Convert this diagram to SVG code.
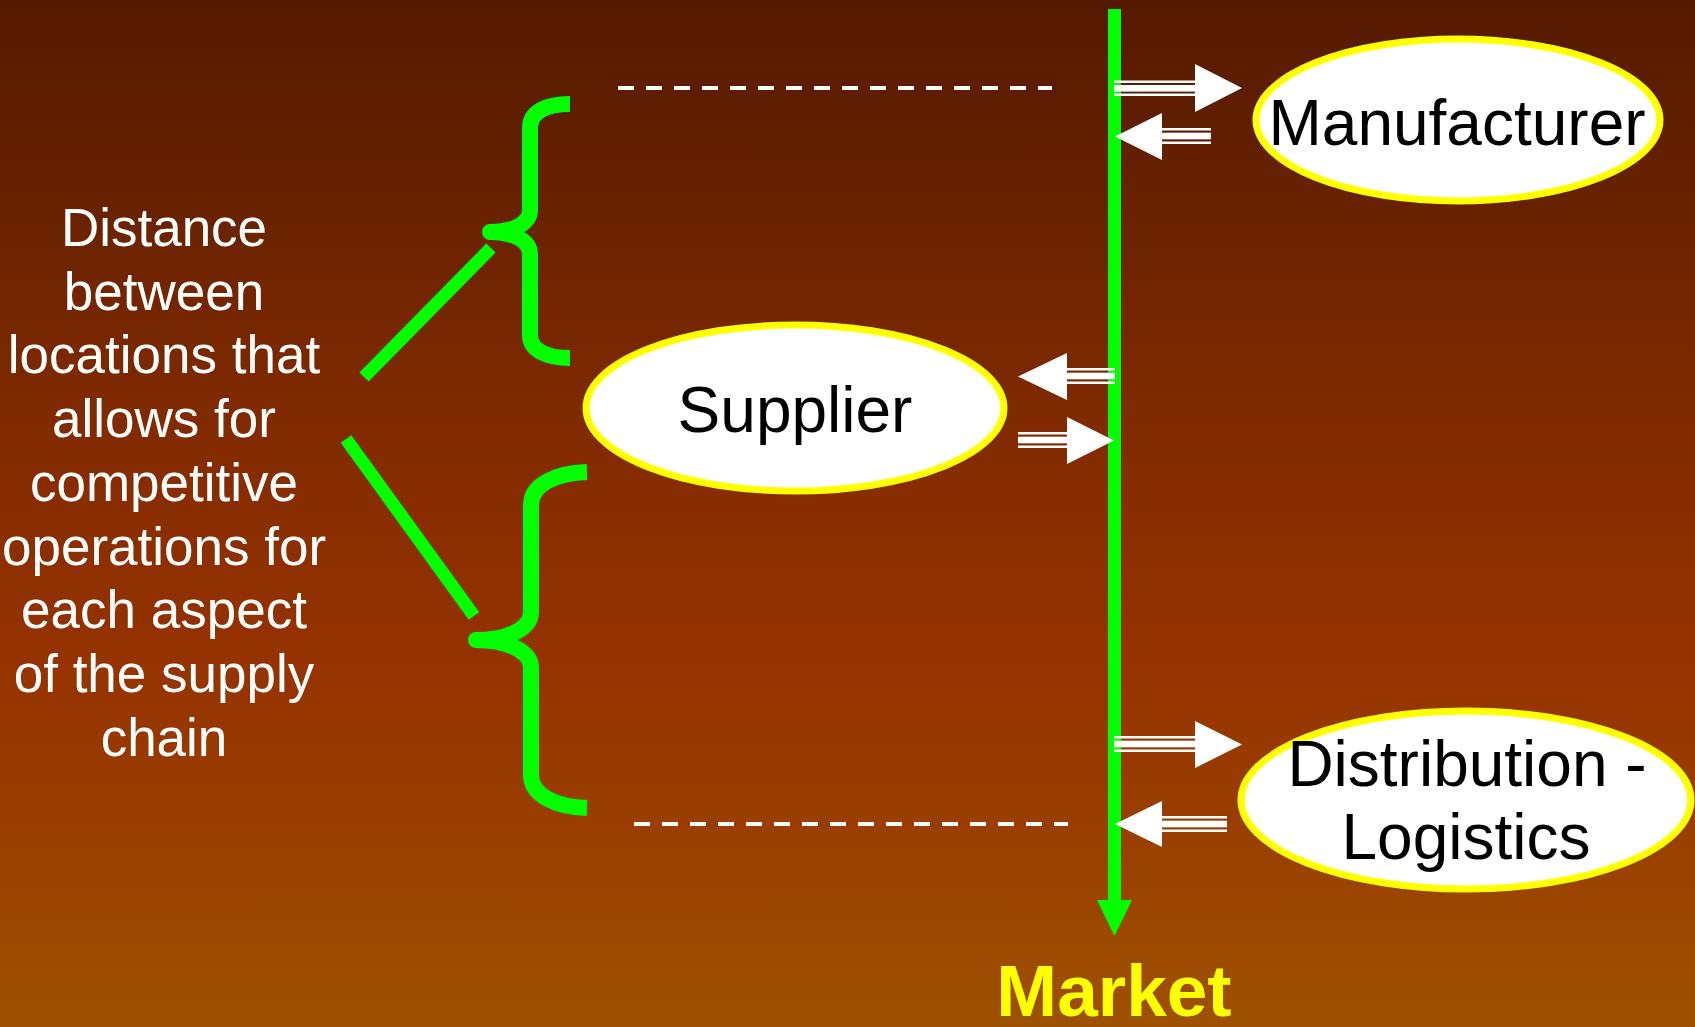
<svg xmlns="http://www.w3.org/2000/svg" width="1695" height="1027" viewBox="0 0 1695 1027">
<defs>
<linearGradient id="bg" x1="0" y1="0" x2="0" y2="1">
<stop offset="0" stop-color="#551900"/>
<stop offset="0.2" stop-color="#682200"/>
<stop offset="0.4" stop-color="#802a00"/>
<stop offset="0.65" stop-color="#963300"/>
<stop offset="0.85" stop-color="#9a4200"/>
<stop offset="1" stop-color="#9e5200"/>
</linearGradient>
</defs>
<style>
.node{fill:#ffffff;stroke:#ffff00;stroke-width:7}
.lbl{font-family:"Liberation Sans",Arial,sans-serif;fill:#000000;text-anchor:middle}
.side{font-family:"Liberation Sans",Arial,sans-serif;fill:#ffffff;font-size:53px;text-anchor:middle}
.brace{fill:none;stroke:#00ff00;stroke-width:16;stroke-linecap:butt}
.diag{stroke:#00ff00;stroke-width:13;stroke-linecap:butt}
.dash{stroke:#ffffff;stroke-width:4;stroke-dasharray:16 12}
.wh{fill:#ffffff}
</style>
<rect x="0" y="0" width="1695" height="1027" fill="url(#bg)"/>

<g id="guides">
<line class="dash" x1="618" y1="88" x2="1052" y2="88"/>
<line class="dash" x1="634" y1="824" x2="1068" y2="824"/>
</g>

<g id="brace-upper">
<path class="brace" d="M570,104 C546,104 530,112 530,128 L530,210 C530,224 512,232 490,232"/>
<path class="brace" d="M490,232 C512,232 530,240 530,254 L530,335 C530,350 546,358 570,358"/>
<circle cx="490" cy="232" r="8" fill="#00ff00"/>
</g>
<g id="brace-lower">
<path class="brace" d="M587,472 C555,473 531,485 531,505 L531,612 C531,630 505,640 476,640"/>
<path class="brace" d="M476,640 C505,640 531,650 531,668 L531,775 C531,795 555,807 587,808"/>
<circle cx="476" cy="640" r="8" fill="#00ff00"/>
</g>

<g id="connectors">
<line class="diag" x1="364" y1="377" x2="491" y2="248"/>
<line class="diag" x1="346" y1="439" x2="474" y2="616"/>
<line x1="1114.5" y1="9" x2="1114.5" y2="902" stroke="#00ff00" stroke-width="13"/>
<polygon points="1097,900 1132,900 1114.5,936" fill="#00ff00"/>
<g class="wh">
<rect x="1114" y="80.5" width="82" height="2.5"/><rect x="1114" y="85" width="82" height="6.6"/><rect x="1114" y="93.5" width="82" height="2.5"/>
<polygon points="1195,64 1242,88 1195,112"/>
</g>
<g class="wh">
<rect x="1161" y="128" width="50" height="2.5"/><rect x="1161" y="132.7" width="50" height="6.6"/><rect x="1161" y="141.5" width="50" height="2.5"/>
<polygon points="1162,113 1115,136.5 1162,160"/>
</g>
<g class="wh">
<rect x="1066" y="368" width="49" height="2.5"/><rect x="1066" y="372.7" width="49" height="6.6"/><rect x="1066" y="381.5" width="49" height="2.5"/>
<polygon points="1067,353 1018,376.5 1067,400"/>
</g>
<g class="wh">
<rect x="1018" y="432" width="50" height="2.5"/><rect x="1018" y="436.7" width="50" height="6.6"/><rect x="1018" y="445.5" width="50" height="2.5"/>
<polygon points="1067,417 1114,440.5 1067,464"/>
</g>
<g class="wh">
<rect x="1114" y="736" width="82" height="2.5"/><rect x="1114" y="740.7" width="82" height="6.6"/><rect x="1114" y="749.5" width="82" height="2.5"/>
<polygon points="1195,721 1242,744.5 1195,768"/>
</g>
<g class="wh">
<rect x="1161" y="816" width="66" height="2.5"/><rect x="1161" y="820.7" width="66" height="6.6"/><rect x="1161" y="829.5" width="66" height="2.5"/>
<polygon points="1162,801 1115,824 1162,847"/>
</g>
</g>

<g id="manufacturer">
<ellipse class="node" cx="1458" cy="120" rx="202" ry="81"/>
<text class="lbl" x="1457" y="145" font-size="64">Manufacturer</text>
</g>
<g id="supplier">
<ellipse class="node" cx="795" cy="408" rx="209" ry="83"/>
<text class="lbl" x="795" y="432" font-size="64">Supplier</text>
</g>
<g id="distribution">
<ellipse class="node" cx="1466" cy="800" rx="225" ry="89"/>
<text class="lbl" x="1467" y="786" font-size="64">Distribution -</text>
<text class="lbl" x="1466" y="859" font-size="64">Logistics</text>
</g>
<g id="market">
<text x="1114" y="1016" font-family="'Liberation Sans',Arial,sans-serif" font-weight="bold" font-size="73" fill="#ffff00" text-anchor="middle">Market</text>
</g>
<g id="distance-note">
<text class="side" x="164" y="246">Distance</text>
<text class="side" x="164" y="310">between</text>
<text class="side" x="164" y="373">locations that</text>
<text class="side" x="164" y="437">allows for</text>
<text class="side" x="164" y="501">competitive</text>
<text class="side" x="164" y="565">operations for</text>
<text class="side" x="164" y="628">each aspect</text>
<text class="side" x="164" y="692">of the supply</text>
<text class="side" x="164" y="756">chain</text>
</g>
</svg>
